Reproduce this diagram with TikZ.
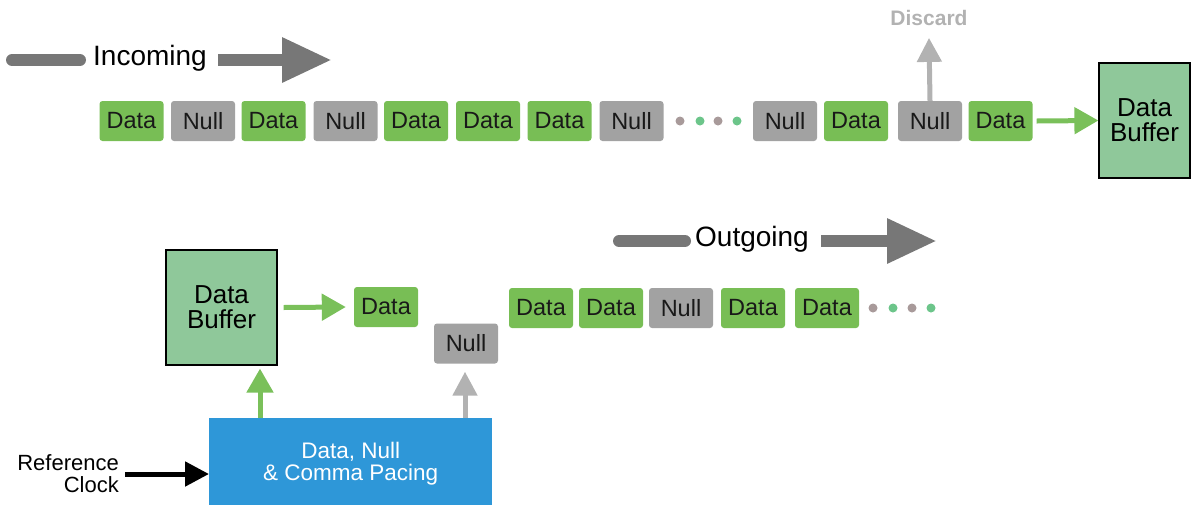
\documentclass[tikz,border=0pt]{standalone}
\usepackage{fontspec}
\setmainfont{Liberation Sans}
\usetikzlibrary{arrows.meta}
\definecolor{dgreen}{HTML}{78BE55}
\definecolor{dgray}{HTML}{A2A2A2}
\definecolor{bufgreen}{HTML}{8FC89A}
\definecolor{pblue}{HTML}{2E97D8}
\definecolor{agreen}{HTML}{7AC05A}
\definecolor{agray}{HTML}{B2B2B2}
\definecolor{bgray}{HTML}{777777}
\definecolor{dotgray}{HTML}{A89A9A}
\definecolor{dotgreen}{HTML}{6CC58A}
\tikzset{
  cell/.style={rounded corners=3pt, minimum width=64pt, minimum height=40pt, inner sep=0pt, font=\fontsize{23.5}{24}\selectfont, text=black!90},
  datacell/.style={cell, fill=dgreen},
  nullcell/.style={cell, fill=dgray},
  bufbox/.style={draw=black, line width=1.2pt, fill=bufgreen, align=center, inner sep=0pt, font=\fontsize{26}{25}\selectfont},
  garrow/.style={draw=agreen, line width=5pt, -{Triangle[length=24pt,width=26pt]}},
  grayarrow/.style={draw=agray, line width=5pt, -{Triangle[length=24pt,width=24pt]}},
  bigarrow/.style={draw=bgray, line width=12pt, -{Triangle[length=50pt,width=42pt]}},
  bigtail/.style={draw=bgray, line width=12pt, line cap=round},
  dotg/.style={circle, fill=dotgray, inner sep=0pt, minimum size=9pt},
  dotgr/.style={circle, fill=dotgreen, inner sep=0pt, minimum size=9pt},
  lbl/.style={font=\fontsize{28}{28}\selectfont, inner sep=0pt}
}
\begin{document}
\begin{tikzpicture}[x=1pt,y=-1pt]
\useasboundingbox (0,0) rectangle (1202,504);
% Incoming
\coordinate (inA) at (12,60);
\coordinate (inB) at (80,60);
\node[lbl] (incoming) at (150,58) {Incoming};
\coordinate (inC) at (218,60);
\coordinate (inD) at (332,60);
\draw[bigtail] (inA) -- (inB);
\draw[bigarrow] (inC) -- (inD);
% top row
\node[datacell] (t1) at (131.5,121) {Data};
\node[nullcell] (t2) at (203,121) {Null};
\node[datacell] (t3) at (273.5,121) {Data};
\node[nullcell] (t4) at (345.5,121) {Null};
\node[datacell] (t5) at (416,121) {Data};
\node[datacell] (t6) at (488,121) {Data};
\node[datacell] (t7) at (559.5,121) {Data};
\node[nullcell] (t8) at (631.5,121) {Null};
\node[dotg] (td1) at (680,121) {};
\node[dotgr] (td2) at (700,121) {};
\node[dotg] (td3) at (718,121) {};
\node[dotgr] (td4) at (737,121) {};
\node[nullcell] (t9) at (785,121) {Null};
\node[datacell] (t10) at (856,121) {Data};
\node[nullcell] (t11) at (930,121) {Null};
\node[datacell] (t12) at (1000.5,121) {Data};
\node[bufbox, minimum width=91pt, minimum height=115pt] (buf1) at (1144.5,120.5) {Data\\Buffer};
\draw[garrow] ([xshift=4pt]t12.east) -- (buf1.west);
\node[font=\bfseries\fontsize{21}{21}\selectfont, text=agray, inner sep=0pt] (discard) at (929,18) {Discard};
\draw[grayarrow] (t11.north) -- ([yshift=-12pt]discard.south);
% Outgoing
\coordinate (outA) at (619,241);
\coordinate (outB) at (685,241);
\node[lbl] (outgoing) at (752,239) {Outgoing};
\coordinate (outC) at (821,241);
\coordinate (outD) at (937,241);
\draw[bigtail] (outA) -- (outB);
\draw[bigarrow] (outC) -- (outD);
% bottom
\node[bufbox, minimum width=111pt, minimum height=115pt] (buf2) at (221.5,307.5) {Data\\Buffer};
\node[datacell] (b0) at (386,307) {Data};
\node[nullcell] (bn) at (466,343.5) {Null};
\node[datacell] (b1) at (541,308) {Data};
\node[datacell] (b2) at (611,308) {Data};
\node[nullcell] (b3) at (681,308) {Null};
\node[datacell] (b4) at (753,308) {Data};
\node[datacell] (b5) at (827,308) {Data};
\node[dotg] (bd1) at (873,308) {};
\node[dotgr] (bd2) at (893,308) {};
\node[dotg] (bd3) at (912,308) {};
\node[dotgr] (bd4) at (931,308) {};
\draw[garrow] ([xshift=6pt]buf2.east) -- ([xshift=-8pt]b0.west);
\node[fill=pblue, minimum width=283pt, minimum height=90pt, inner sep=0pt, text=white, align=center, font=\fontsize{22.5}{22}\selectfont, anchor=north west] (pace) at (209,418) {Data, Null\\\& Comma Pacing};
\node[align=right, font=\fontsize{22}{22}\selectfont, anchor=east, inner sep=0pt] (ref) at (119,474) {Reference\\Clock};
\draw[draw=black, line width=5pt, -{Triangle[length=24pt,width=24pt]}] ([xshift=6pt]ref.east) -- (pace.west |- ref.east);
\coordinate (gup) at (260,418);
\draw[garrow] (gup) -- ([yshift=-3pt]buf2.south -| gup);
\coordinate (nup) at (465,418);
\draw[grayarrow] (nup) -- ([yshift=-8pt]bn.south -| nup);
\end{tikzpicture}
\end{document}
